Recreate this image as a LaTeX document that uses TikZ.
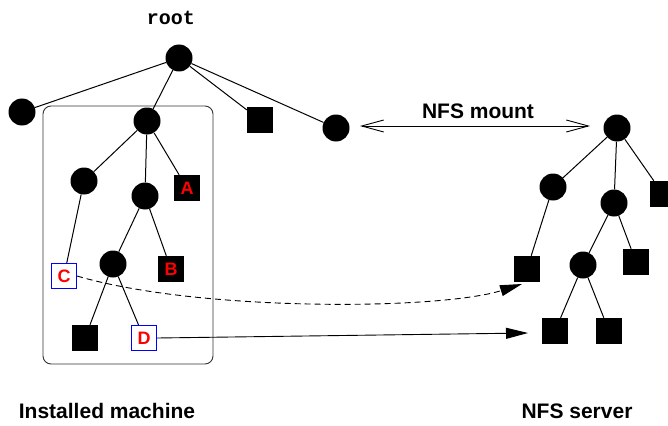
\documentclass[tikz,border=0pt]{standalone}
\usepackage{fontspec}
\setmainfont{Liberation Sans}
\setmonofont{Liberation Mono}
\usetikzlibrary{arrows.meta}

\begin{document}
\begin{tikzpicture}[x=1pt,y=-1pt,
  dot/.style={circle,fill=black,inner sep=0pt,minimum size=27pt},
  leaf/.style={rectangle,fill=black,inner sep=0pt,minimum size=26pt},
  tagged/.style={leaf,text=red,font=\fontsize{18}{18}\selectfont\bfseries},
  linked/.style={rectangle,draw=blue,fill=white,line width=1pt,inner sep=0pt,
    minimum size=25pt,text=red,font=\fontsize{18}{18}\selectfont\bfseries},
  edge/.style={line width=1pt},
  caption/.style={font=\fontsize{21}{21}\selectfont\bfseries},
  link/.style={line width=0.9pt,-{Triangle[length=22pt,width=11pt]}}
]
\useasboundingbox (0,0) rectangle (668,425);
\clip (0,0) rectangle (668,425);

% group frame around the installed subtree
\node[draw=black!80,line width=0.9pt,rounded corners=8pt,
  minimum width=170pt,minimum height=258pt] (group) at (128,235) {};

% installed machine tree
\node[font=\fontsize{20}{20}\selectfont\ttfamily\bfseries] (rootlabel) at (171,18) {root};
\node[dot] (R)  at (179,58)  {};
\node[dot] (L1) at (22,112)  {};
\node[dot] (M)  at (147,121) {};
\node[leaf] (Q1) at (260,120) {};
\node[dot] (Rc) at (336,128) {};
\node[dot] (a)  at (84,181)  {};
\node[dot] (b)  at (145,196) {};
\node[tagged] (A) at (187,188) {A};
\node[linked] (C) at (64,276) {C};
\node[dot] (c)  at (113,264) {};
\node[tagged] (B) at (171,269) {B};
\node[leaf] (Q2) at (85,338) {};
\node[linked] (D) at (144,338) {D};

\draw[edge] (R) -- (L1);
\draw[edge] (R) -- (M);
\draw[edge] (R) -- (Q1);
\draw[edge] (R) -- (Rc);
\draw[edge] (M) -- (a);
\draw[edge] (M) -- (b);
\draw[edge] (M) -- (A);
\draw[edge] (a) -- (C);
\draw[edge] (b) -- (c);
\draw[edge] (b) -- (B);
\draw[edge] (c) -- (Q2);
\draw[edge] (c) -- (D);

% NFS server tree
\node[dot] (S)  at (617,128) {};
\node[dot] (S1) at (553,187) {};
\node[dot] (S2) at (614,203) {};
\node[leaf] (S3) at (663,194) {};
\node[leaf] (S4) at (527,269) {};
\node[dot] (S5) at (583,265) {};
\node[leaf] (S6) at (636,262) {};
\node[leaf] (S7) at (555,331) {};
\node[leaf] (S8) at (609,331) {};

\draw[edge] (S) -- (S1);
\draw[edge] (S) -- (S2);
\draw[edge] (S) -- (S3);
\draw[edge] (S1) -- (S4);
\draw[edge] (S2) -- (S5);
\draw[edge] (S2) -- (S6);
\draw[edge] (S5) -- (S7);
\draw[edge] (S5) -- (S8);

% mount relation
\coordinate (mountL) at (360,126);
\coordinate (mountR) at (590,126);
\draw[line width=0.9pt,{Straight Barb[length=22pt,width=12pt]}-{Straight Barb[length=22pt,width=12pt]}]
  (mountL) -- (mountR);
\node[caption] (mountlabel) at (478,111) {NFS mount};

% links from the installed tree into the server tree
\coordinate (dashend) at (522,284);
\coordinate (solidend) at (528,333);
\draw[link,dash pattern=on 6pt off 4pt] (C.east) .. controls (200,312) and (440,310) .. (dashend);
\draw[link] (D.east) -- (solidend);

% captions
\node[caption] (leftcap) at (107,411) {Installed machine};
\node[caption] (rightcap) at (577,411) {NFS server};
\end{tikzpicture}
\end{document}
